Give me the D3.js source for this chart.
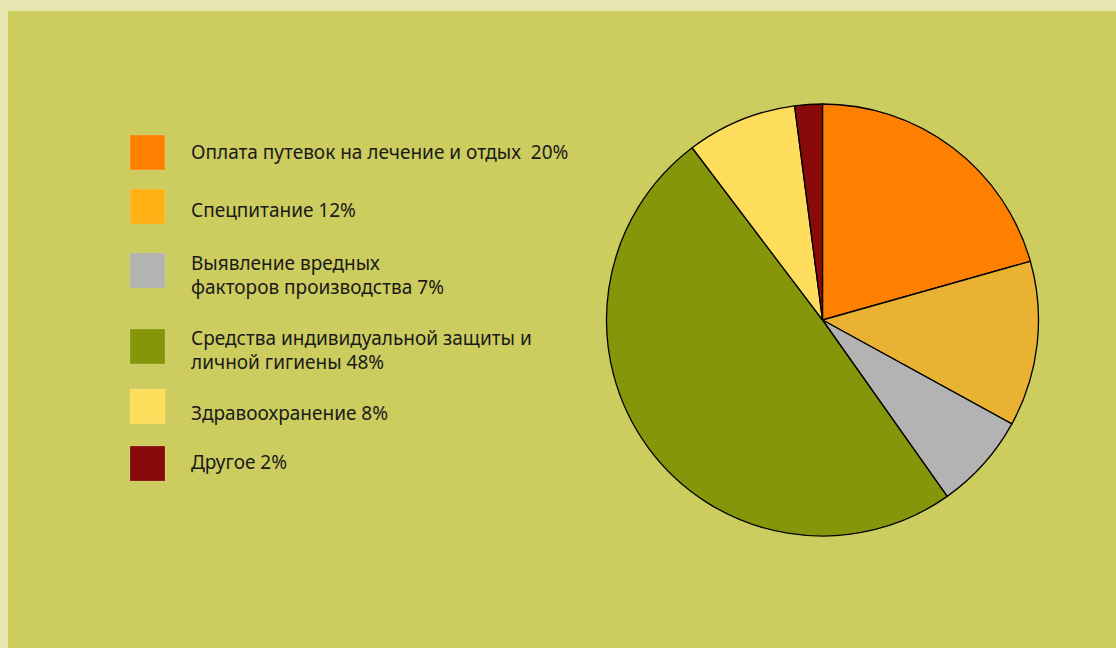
<!DOCTYPE html>
<meta charset="utf-8">
<style>
body { margin: 0; background: #e8e6b0; }
.legend text {
  font: 19px "Noto Sans", sans-serif;
  fill: #1a1a1a;
  white-space: pre;
}
.slices path {
  stroke: #000;
  stroke-width: 1.3px;
}
</style>
<svg width="1116" height="648"></svg>
<script src="https://d3js.org/d3.v7.min.js"></script>
<script>

// data
var categories = [
  ["Оплата путевок на лечение и отдых  20%"],
  ["Спецпитание 12%"],
  ["Выявление вредных", "факторов производства 7%"],
  ["Средства индивидуальной защиты и", "личной гигиены 48%"],
  ["Здравоохранение 8%"],
  ["Другое 2%"]
];
var values = [20, 12, 7, 48, 8, 2];
var legendColors = ["#ff8000", "#ffb116", "#b3b3b3", "#86960a", "#ffdd5c", "#880a0a"];
var sliceColors  = ["#ff8000", "#eab232", "#b3b3b3", "#86960a", "#ffdd5c", "#880a0a"];

var svg = d3.select("svg"),
  width = +svg.attr("width"),
  height = +svg.attr("height");

// inner panel
svg.append("rect")
  .attr("x", 8)
  .attr("y", 11)
  .attr("width", width - 8)
  .attr("height", height - 11)
  .attr("fill", "#cccc5f");

// legend layout (square tops, first text baselines)
var boxY = [135, 189, 253, 329, 389, 446];
var textY = [159, 217, 270, 345, 420, 469];

var legend = svg.append("g")
  .attr("class", "legend")
  .selectAll("g")
  .data(categories)
  .enter().append("g");

legend.append("rect")
  .attr("x", 130)
  .attr("y", function(d, i) { return boxY[i]; })
  .attr("width", 35)
  .attr("height", 35)
  .attr("fill", function(d, i) { return legendColors[i]; })
  .attr("stroke", "#ffffff")
  .attr("stroke-opacity", 0.15);

legend.append("text")
  .attr("y", function(d, i) { return textY[i]; })
  .selectAll("tspan")
  .data(function(d) { return d; })
  .enter().append("tspan")
  .attr("x", 191)
  .attr("dy", function(d, i) { return i ? 24 : 0; })
  .text(function(d) { return d; });

// pie
var radius = 216;
var pie = d3.pie().sort(null).value(function(d) { return d; });
var arc = d3.arc().innerRadius(0).outerRadius(radius);

svg.append("g")
  .attr("class", "slices")
  .attr("transform", "translate(822.5,320)")
  .selectAll("path")
  .data(pie(values))
  .enter().append("path")
  .attr("d", arc)
  .attr("fill", function(d, i) { return sliceColors[i]; });

</script>
